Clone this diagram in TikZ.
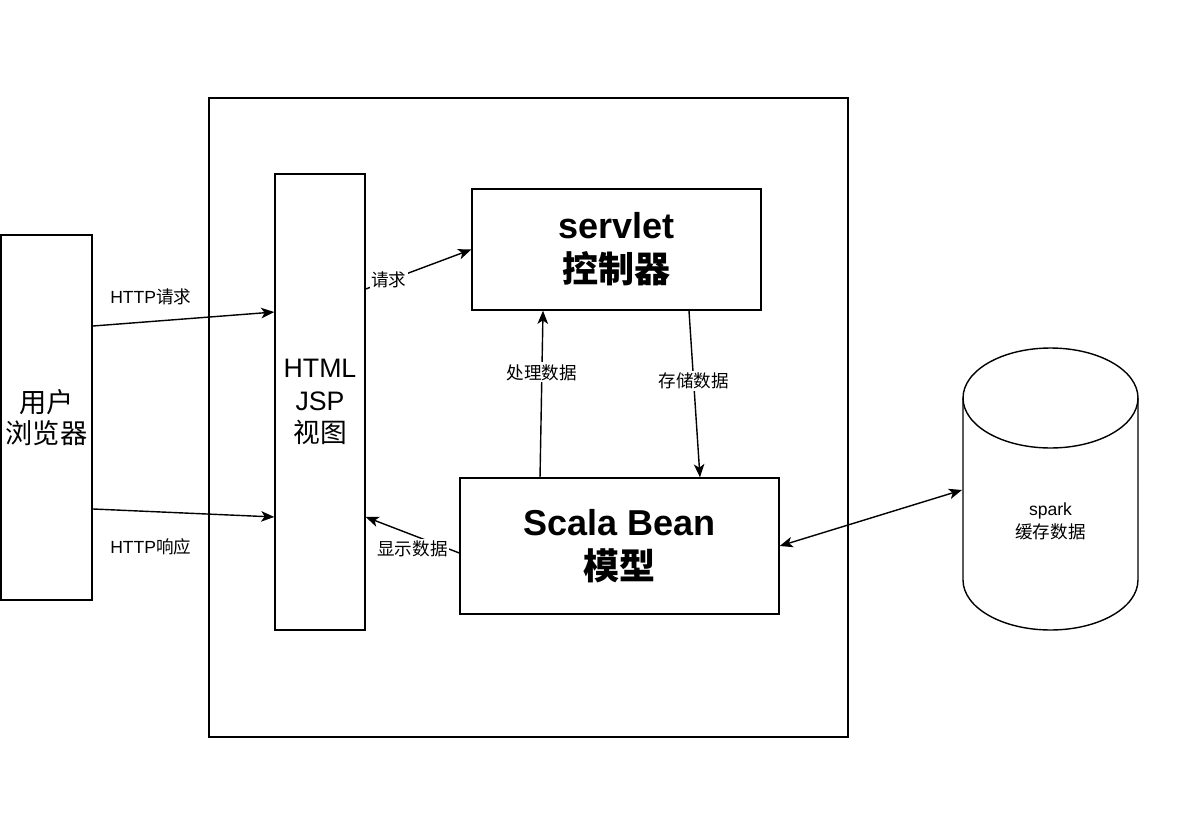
\documentclass[tikz,border=0pt]{standalone}
\usepackage{fontspec}
\setmainfont{Liberation Sans}
\newfontfamily\cjk{Noto Sans CJK SC}
\usetikzlibrary{arrows.meta}

\tikzset{
  box/.style={draw, fill=white, inner sep=0pt, align=center},
  lbl/.style={font=\fontsize{10}{13}\selectfont, fill=white, inner sep=1pt},
}

\begin{document}
\begin{tikzpicture}[x=0.02cm, y=-0.02cm, >={Stealth[length=7.5pt, width=6pt, inset=2pt]}, line width=0.8pt]
  \useasboundingbox (0,0) rectangle (1200,821);

  \node[box, fill=none, minimum width=12.78cm, minimum height=12.78cm] (frame)   at (528.5,417.5) {};
  \node[box, minimum width=1.82cm, minimum height=7.3cm,
        font=\fontsize{15.5}{17.5}\selectfont\cjk]                     (browser) at (46.5,417.5) {用户\\浏览器};
  \node[box, minimum width=1.8cm, minimum height=9.12cm,
        font=\fontsize{15.2}{18.4}\selectfont]                         (html)    at (320,402)    {HTML\\JSP\\{\cjk 视图}};
  \node[box, minimum width=5.78cm, minimum height=2.42cm,
        font=\fontsize{20.5}{25}\selectfont\bfseries]                  (servlet) at (616.5,249.5) {servlet\\{\cjk 控制器}};
  \node[box, minimum width=6.38cm, minimum height=2.72cm,
        font=\fontsize{20.5}{25}\selectfont\bfseries]                  (bean)    at (619.5,546)  {Scala Bean\\{\cjk 模型}};

  \draw[fill=white] (963,398) -- (963,580)
        arc[start angle=180, end angle=360, x radius=1.75cm, y radius=1cm] -- (1138,398);
  \draw (1050.5,398) ellipse [x radius=1.75cm, y radius=1cm];
  \node[align=center, font=\fontsize{10}{13}\selectfont] (spark) at (1050.5,521) {spark\\{\cjk 缓存数据}};
  \coordinate (sparkin) at (962,490);

  \draw[->] ([yshift=1.83cm]browser.east)
        -- node[lbl, fill=none, pos=.32, yshift=.5cm] {HTTP{\cjk 请求}} ([yshift=1.8cm]html.west);
  \draw[->] ([yshift=-1.83cm]browser.east)
        -- node[lbl, fill=none, pos=.32, yshift=-.71cm] {HTTP{\cjk 响应}} ([yshift=-2.3cm]html.west);
  \draw[->] ([yshift=2.26cm]html.east)
        -- node[lbl, pos=.22] {\cjk 请求} (servlet.west);
  \draw[->] ([xshift=-1.59cm]bean.north)
        -- node[lbl, pos=.63] {\cjk 处理数据} ([xshift=-1.47cm]servlet.south);
  \draw[->] ([xshift=1.45cm]servlet.south)
        -- node[lbl, pos=.42] {\cjk 存储数据} ([xshift=1.61cm]bean.north);
  \draw[->] ([yshift=-.14cm]bean.west)
        -- node[lbl, pos=.5, yshift=-.28cm] {\cjk 显示数据} ([yshift=-2.3cm]html.east);
  \draw[<->] (bean.east) -- (sparkin);
\end{tikzpicture}
\end{document}
